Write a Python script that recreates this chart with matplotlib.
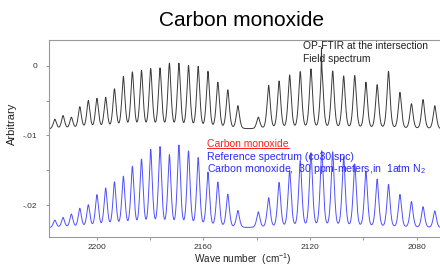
import numpy as np
import matplotlib
matplotlib.use("Agg")
import matplotlib.pyplot as plt
from matplotlib.lines import Line2D
from matplotlib.ticker import FixedLocator, FixedFormatter

plt.rcParams['font.family'] = ['Liberation Sans', 'DejaVu Sans']
plt.rcParams['mathtext.fontset'] = 'custom'
plt.rcParams['mathtext.rm'] = 'Liberation Sans'
plt.rcParams['mathtext.it'] = 'Liberation Sans:italic'

# CO fundamental band lines (cm-1): R(20)..R(0), then P(1)..P(17)
r_lines = [2215.71, 2212.63, 2209.51, 2206.35, 2203.16, 2199.93, 2196.66,
           2193.36, 2190.02, 2186.64, 2183.22, 2179.77, 2176.28, 2172.76,
           2169.20, 2165.60, 2161.97, 2158.30, 2154.60, 2150.86, 2147.08]
p_lines = [2139.43, 2135.55, 2131.63, 2127.68, 2123.70, 2119.68, 2115.63,
           2111.54, 2107.42, 2103.27, 2099.08, 2094.86, 2090.61, 2086.32,
           2082.00, 2077.65, 2073.25]

# Field spectrum (black) - peak tops and baseline
field_base = -0.00910
field_r = [-0.00770, -0.00719, -0.00745, -0.00594, -0.00508, -0.00478, -0.00465,
           -0.00345, -0.00170, -0.00105, -0.00086, -0.00058, -0.00050, 0.00019,
           0.00019, -0.00014, -0.00026, -0.00094, -0.00249, -0.00355, -0.00580]
field_p = [-0.00745, -0.00288, -0.00230, -0.00144, -0.00096, -0.00058, -0.00058,
           -0.00086, -0.00158, -0.00151, -0.00245, -0.00281, -0.00086, -0.00389,
           -0.00551, -0.00489, -0.00576]
spike_wn = 2115.75
spike_top = 0.00273

# Reference spectrum co30.spc (blue)
ref_base = -0.02330
ref_r = [-0.02220, -0.02184, -0.02137, -0.02055, -0.02007, -0.01864, -0.01770,
         -0.01684, -0.01604, -0.01465, -0.01363, -0.01223, -0.01184, -0.01302,
         -0.01161, -0.01245, -0.01338, -0.01544, -0.01684, -0.01856, -0.02087]
ref_p = [-0.02105, -0.01904, -0.01688, -0.01521, -0.01377, -0.01266, -0.01238,
         -0.01252, -0.01324, -0.01425, -0.01525, -0.01640, -0.01712, -0.01856,
         -0.01957, -0.02029, -0.02087]

xticks = [2200, 2160, 2120, 2080]
xminor = [2180, 2140, 2100]
yticks = [0.0, -0.01, -0.02]
ytick_labels = ['0', '-.01', '-.02']
yminor = [-0.005, -0.015]

#------------------------------------------------------------------------------

wn = np.linspace(2222, 2068, 4000)


def line_shape(dx, sigma=0.68, gamma=0.5, frac=0.4):
    # pseudo-Voigt with unit peak
    g = np.exp(-dx**2 / (2 * sigma**2))
    l = 1.0 / (1.0 + (dx / gamma)**2)
    return (1 - frac) * g + frac * l


def spectrum(base, centers, tops):
    y = np.full_like(wn, base)
    for c, t in zip(centers, tops):
        y += (t - base) * line_shape(wn - c)
    return y


centers = r_lines + p_lines
field = spectrum(field_base, centers, field_r + field_p)
field += (spike_top - field_p[6]) * np.exp(-(wn - spike_wn)**2 / (2 * 0.07**2))
ref = spectrum(ref_base, centers, ref_r + ref_p)

#------------------------------------------------------------------------------

fig = plt.figure(figsize=(4.4, 2.66), dpi=100)
ax = fig.add_axes([0.112, 0.110, 0.888, 0.740])

ax.plot(wn, field, color='#3a3a3a', linewidth=0.7)
ax.plot(wn, ref, color='#5050ff', linewidth=0.7)

ax.set_xlim(2217.8, 2071.3)
ax.set_ylim(-0.02456, 0.00374)

ax.xaxis.set_major_locator(FixedLocator(xticks))
ax.xaxis.set_minor_locator(FixedLocator(xminor))
ax.yaxis.set_major_locator(FixedLocator(yticks))
ax.yaxis.set_major_formatter(FixedFormatter(ytick_labels))
ax.yaxis.set_minor_locator(FixedLocator(yminor))

ax.tick_params(axis='both', which='both', direction='out', length=2.5,
               width=0.6, color='#888888', labelsize=6, labelcolor='#333333')
ax.tick_params(axis='x', pad=3)
ax.tick_params(axis='y', pad=6)

for side in ['left', 'top', 'bottom']:
    ax.spines[side].set_color('#999999')
    ax.spines[side].set_linewidth(0.8)
ax.spines['right'].set_visible(False)

# Titles and labels
fig.text(241 / 440, 1 - 20 / 266, 'Carbon monoxide', fontsize=15,
         ha='center', va='center')
fig.text(243 / 440, 1 - 259.5 / 266, 'Wave number  (cm$^{-1}$)', fontsize=7.2,
         ha='center', va='center', color='#222222')
fig.text(12 / 440, 1 - 124 / 266, 'Arbitrary', fontsize=8, rotation=90,
         ha='center', va='center', color='#222222')

# Annotations
fig.text(303 / 440, 1 - 46 / 266, 'OP-FTIR at the intersection', fontsize=7.4,
         ha='left', va='center', color='#222222')
fig.text(303 / 440, 1 - 59.5 / 266, 'Field spectrum', fontsize=7.4,
         ha='left', va='center', color='#222222')
red = fig.text(207 / 440, 1 - 144.3 / 266, 'Carbon monoxide', fontsize=7.5,
               ha='left', va='center', color='#ff2020')
fig.text(207 / 440, 1 - 156.8 / 266, 'Reference spectrum (co30.spc)',
         fontsize=7.6, ha='left', va='center', color='#2a2aff')
fig.text(207 / 440, 1 - 169.5 / 266,
         'Carbon monoxide,  30 ppm-meters,in  1atm N$_{2}$',
         fontsize=7.6, ha='left', va='center', color='#2a2aff')

# Underline the red heading
fig.canvas.draw()
bb = red.get_window_extent().transformed(fig.transFigure.inverted())
fig.add_artist(Line2D([bb.x0, bb.x1], [bb.y0 + 0.004, bb.y0 + 0.004],
                      color='#ff2020', linewidth=0.7,
                      transform=fig.transFigure))

fig.savefig('out.png', dpi=100)
